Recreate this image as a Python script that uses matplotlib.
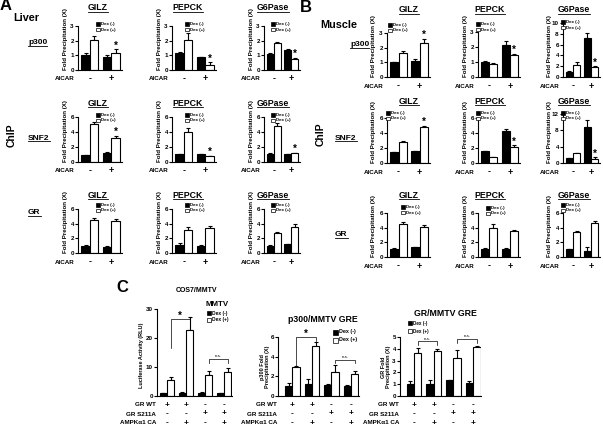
import numpy as np
import matplotlib.pyplot as plt
from matplotlib.patches import Rectangle
from matplotlib.lines import Line2D

plt.rcParams['font.family'] = ['Liberation Sans', 'DejaVu Sans']
plt.rcParams['font.weight'] = 'bold'
plt.rcParams['axes.linewidth'] = 0.8

W, H = 603, 426

# ---------------- data ----------------
# panels A / B: per gene [AICAR -, AICAR +]
genes = ['GILZ', 'PEPCK', 'G6Pase']
aicar = ['-', '+']

liver_p300_neg = [[1.02, 0.86], [1.13, 0.86], [1.08, 1.35]]
liver_p300_neg_err = [[0.12, 0.14], [0.08, 0.03], [0.10, 0.07]]
liver_p300_pos = [[2.03, 1.13], [2.05, 0.34], [1.85, 0.75]]
liver_p300_pos_err = [[0.27, 0.27], [0.47, 0.20], [0.05, 0.08]]

liver_snf2_neg = [[0.90, 1.17], [1.08, 1.03], [1.08, 1.03]]
liver_snf2_neg_err = [[0.10, 0.10], [0.05, 0.05], [0.10, 0.05]]
liver_snf2_pos = [[5.10, 3.20], [3.95, 0.75], [4.80, 1.20]]
liver_snf2_pos_err = [[0.20, 0.30], [0.60, 0.10], [0.40, 0.05]]

liver_gr_neg = [[1.00, 0.86], [1.05, 1.00], [1.00, 1.22]]
liver_gr_neg_err = [[0.05, 0.05], [0.25, 0.05], [0.05, 0.05]]
liver_gr_pos = [[4.45, 4.40], [3.20, 3.45], [2.72, 3.60]]
liver_gr_pos_err = [[0.35, 0.20], [0.35, 0.30], [0.15, 0.35]]

muscle_p300_neg = [[1.00, 1.08], [0.97, 2.12], [0.95, 7.20]]
muscle_p300_neg_err = [[0.02, 0.15], [0.12, 0.30], [0.20, 1.00]]
muscle_p300_pos = [[1.66, 2.35], [0.88, 1.45], [2.30, 1.85]]
muscle_p300_pos_err = [[0.08, 0.25], [0.07, 0.10], [0.40, 0.15]]

muscle_snf2_neg = [[1.42, 1.55], [1.55, 4.22], [1.15, 8.70]]
muscle_snf2_neg_err = [[0.10, 0.05], [0.08, 0.35], [0.10, 1.80]]
muscle_snf2_pos = [[2.80, 4.80], [0.75, 2.20], [2.50, 1.10]]
muscle_snf2_pos_err = [[0.08, 0.20], [0.05, 0.20], [0.05, 0.30]]

muscle_gr_neg = [[1.06, 1.38], [1.15, 1.15], [1.06, 0.83]]
muscle_gr_neg_err = [[0.10, 0.05], [0.10, 0.05], [0.05, 0.60]]
muscle_gr_pos = [[4.50, 4.05], [4.00, 3.55], [3.36, 4.70]]
muscle_gr_pos_err = [[0.30, 0.35], [0.45, 0.10], [0.25, 0.25]]

# panel C: four transfection conditions
gr_wt = ['+', '+', '-', '-']
gr_s211a = ['-', '-', '+', '+']
ampk_ca = ['-', '+', '-', '+']
row_names = ['GR WT', 'GR S211A', 'AMPK\u03b11 CA']

mmtv_neg = [0.9, 1.15, 1.15, 0.9]
mmtv_neg_err = [0.2, 0.2, 0.15, 0.2]
mmtv_pos = [5.5, 22.8, 7.3, 8.3]
mmtv_pos_err = [1.1, 4.4, 1.4, 1.3]
mmtv_brackets = [(0, 1, 26.5, 16.5, 24.0, '*'), (2, 3, 12.7, 11.3, 11.3, 'n.s.')]

p300gre_neg = [1.0, 1.18, 1.1, 1.0]
p300gre_neg_err = [0.3, 0.5, 0.12, 0.15]
p300gre_pos = [2.96, 5.05, 2.45, 2.2]
p300gre_pos_err = [0.05, 0.45, 0.75, 0.33]
p300gre_brackets = [(0, 1, 6.0, 3.05, 5.55, '*'), (2, 3, 3.7, 3.37, 3.37, 'n.s.')]

grgre_neg = [1.0, 0.98, 1.32, 1.07]
grgre_neg_err = [0.25, 0.37, 0.06, 0.17]
grgre_pos = [3.65, 3.8, 3.2, 4.15]
grgre_pos_err = [0.42, 0.22, 0.67, 0.1]
grgre_brackets = [(0, 1, 4.63, 4.33, 4.33, 'n.s.'), (2, 3, 4.83, 4.5, 4.5, 'n.s.')]

# ---------------- helpers ----------------
fig = plt.figure(figsize=(6.03, 4.26), dpi=100)
underlined = []
PT = 0.72  # points per pixel


def fx(x):
    return x / W


def fy(y):
    return 1 - y / H


def add_axes_px(left, top, right, bottom):
    ax = fig.add_axes([fx(left), fy(bottom), (right - left) / W, (bottom - top) / H])
    ax.patch.set_visible(False)
    return ax


def style_axes(ax, ymax, ystep, fs):
    ax.set_ylim(0, ymax)
    ticks = np.arange(0, ymax + 1e-6, ystep)
    ax.set_yticks(ticks)
    ax.set_yticklabels([f'{t:g}' for t in ticks], fontsize=fs, fontweight='bold')
    ax.spines[['top', 'right']].set_visible(False)
    ax.spines['left'].set_bounds(0, ymax)
    ax.set_xticks([])
    ax.tick_params(axis='y', direction='out', length=2, width=0.8, pad=1)


def pair_bars(ax, x, neg, neg_err, pos, pos_err, bw):
    neg, pos = np.asarray(neg), np.asarray(pos)
    ax.bar(x - bw / 2, neg, bw, color='black', edgecolor='black', linewidth=0.8, zorder=2)
    ax.bar(x + bw / 2, pos, bw, color='white', edgecolor='black', linewidth=0.8, zorder=2)
    for xs, v, e in ((x - bw / 2, neg, neg_err), (x + bw / 2, pos, pos_err)):
        ax.errorbar(xs, v, yerr=[np.zeros(len(v)), e], fmt='none', ecolor='black',
                    elinewidth=0.8, capsize=1.6, capthick=0.8, zorder=1, clip_on=False)


def legend_px(x, y, gap, sq, fs):
    for i, (fc, lab) in enumerate((('black', 'Dex (-)'), ('white', 'Dex (+)'))):
        yy = y + i * gap
        fig.add_artist(Rectangle((fx(x - sq / 2), fy(yy + sq / 2)), sq / W, sq / H,
                                 facecolor=fc, edgecolor='black', linewidth=0.5,
                                 transform=fig.transFigure))
        fig.text(fx(x + sq / 2 + 1.2), fy(yy), lab, fontsize=fs, ha='left', va='center')


def chip_chart(left, top, bottom, width, ymax, ystep, neg, neg_err, pos, pos_err,
               star, title, title_xy, leg_xy):
    ax = add_axes_px(left, top, left + width, bottom)
    x = np.array([0.55, 1.55])
    pair_bars(ax, x, neg, neg_err, pos, pos_err, 0.4)
    ax.set_xlim(0, 2.05)
    style_axes(ax, ymax, ystep, 4.5)
    ax.annotate('AICAR', xy=(0, 0), xycoords='axes fraction', xytext=(-3 * PT, -9 * PT),
                textcoords='offset points', ha='right', va='center', fontsize=4.5)
    for xi, s in zip(x, aicar):
        ax.annotate(s, xy=(xi, 0), xycoords=ax.get_xaxis_transform(), xytext=(0, -9 * PT),
                    textcoords='offset points', ha='center', va='center', fontsize=6.5)
    if star:
        ax.annotate('*', xy=(x[1] + 0.2, pos[1] + pos_err[1]), xytext=(0, -1),
                    textcoords='offset points', ha='center', va='bottom', fontsize=7)
    fig.text(fx(left - 13), fy(bottom), 'Fold Precipitation (X)', rotation=90,
             ha='center', va='bottom', fontsize=4.4)
    t = fig.text(fx(title_xy[0]), fy(title_xy[1]), title, ha='center', va='center', fontsize=6.3)
    underlined.append(t)
    legend_px(leg_xy[0], leg_xy[1], 5.5, 3.5, 3.2)
    return ax


def c_chart(left, top, bottom, xlim, unit, ymax, ystep, neg, neg_err, pos, pos_err,
            brackets, ylabel, ylabel_xy, ylabel_fs):
    right = left + (xlim[1] - xlim[0]) * unit
    ax = add_axes_px(left, top, right, bottom)
    x = np.arange(4)
    bw = 0.38
    pair_bars(ax, x, neg, neg_err, pos, pos_err, bw)
    ax.set_xlim(*xlim)
    style_axes(ax, ymax, ystep, 4.5)
    for r, (name, row) in enumerate(zip(row_names, [gr_wt, gr_s211a, ampk_ca])):
        dy = -(9 + 9 * r) * PT
        ax.annotate(name, xy=(0, 0), xycoords='axes fraction', xytext=(-1 * PT, dy),
                    textcoords='offset points', ha='right', va='center', fontsize=4.5)
        for xi, s in zip(x, row):
            ax.annotate(s, xy=(xi, 0), xycoords=ax.get_xaxis_transform(), xytext=(0, dy),
                        textcoords='offset points', ha='center', va='center', fontsize=6)
    for g1, g2, lvl, d1, d2, lab in brackets:
        x1, x2 = g1 + bw / 2, g2 + bw / 2
        ax.plot([x1, x1, x2, x2], [d1, lvl, lvl, d2], color='black', lw=0.5, clip_on=False)
        if lab == '*':
            ax.annotate(lab, xy=((x1 + x2) / 2, lvl), xytext=(0, -1.5), textcoords='offset points',
                        ha='center', va='bottom', fontsize=7)
        else:
            ax.annotate(lab, xy=((x1 + x2) / 2, lvl), xytext=(0, 0.5), textcoords='offset points',
                        ha='center', va='bottom', fontsize=3.2, fontweight='normal')
    fig.text(fx(ylabel_xy[0]), fy(ylabel_xy[1]), ylabel, rotation=90, ha='center', va='center',
             fontsize=ylabel_fs, multialignment='center', linespacing=1.0)
    return ax


# ---------------- panel A: liver ----------------
a_left = [78, 172, 264]
a_width = [44, 44, 36]
a_title_x = [98, 188, 273]
a_leg_x = [98, 187, 273]
liver_rows = [
    (26, 70, 3, 1, liver_p300_neg, liver_p300_neg_err, liver_p300_pos, liver_p300_pos_err, True, 8, 24),
    (117, 162, 6, 2, liver_snf2_neg, liver_snf2_neg_err, liver_snf2_pos, liver_snf2_pos_err, True, 103, 115),
    (209, 253, 6, 2, liver_gr_neg, liver_gr_neg_err, liver_gr_pos, liver_gr_pos_err, False, 195, 205),
]
for top, bottom, ymax, ystep, n, ne, p, pe, star, ty, ly in liver_rows:
    for i, g in enumerate(genes):
        chip_chart(a_left[i], top, bottom, a_width[i], ymax, ystep, n[i], ne[i], p[i], pe[i],
                   star, g, (a_title_x[i], ty), (a_leg_x[i], ly))

# ---------------- panel B: muscle ----------------
b_left = [387, 478, 563]
b_width = [43, 42, 37]
b_title_x = [409, 490, 574]
muscle_rows = [
    ([33, 32, 23], 77, [3, 3, 10], [1, 1, 2], muscle_p300_neg, muscle_p300_neg_err,
     muscle_p300_pos, muscle_p300_pos_err, True, 10, [(390, 25), (478, 24), (563, 22)]),
    ([118, 118, 114], 163, [6, 6, 12], [2, 2, 4], muscle_snf2_neg, muscle_snf2_neg_err,
     muscle_snf2_pos, muscle_snf2_pos_err, True, 101, [(388, 113), (478, 113), (563, 113)]),
    ([213, 213, 213], 257, [6, 6, 6], [2, 2, 2], muscle_gr_neg, muscle_gr_neg_err,
     muscle_gr_pos, muscle_gr_pos_err, False, 195, [(403, 207), (488, 208), (563, 205)]),
]
for tops, bottom, ymaxs, ysteps, n, ne, p, pe, star, ty, legs in muscle_rows:
    for i, g in enumerate(genes):
        chip_chart(b_left[i], tops[i], bottom, b_width[i], ymaxs[i], ysteps[i], n[i], ne[i],
                   p[i], pe[i], star, g, (b_title_x[i], ty), legs[i])

# ---------------- panel C ----------------
c_chart(157, 309, 396, (-0.52, 3.4), 19.1, 30, 10, mmtv_neg, mmtv_neg_err, mmtv_pos,
        mmtv_pos_err, mmtv_brackets, 'Luciferase Activity (RLU)', (141, 355), 4.0)
c_chart(278, 337, 396, (-0.74, 3.4), 19.5, 6, 2, p300gre_neg, p300gre_neg_err, p300gre_pos,
        p300gre_pos_err, p300gre_brackets, 'p300 Fold\nPrecipitation (X)', (265, 367), 4.0)
c_chart(400, 337, 396, (-0.71, 3.4), 19.7, 5, 1, grgre_neg, grgre_neg_err, grgre_pos,
        grgre_pos_err, grgre_brackets, 'GR Fold\nPrecipitation (X)', (386, 367), 4.0)

fig.text(fx(196), fy(291), 'COS7/MMTV', ha='center', va='center', fontsize=5)
fig.text(fx(206), fy(304), 'MMTV', ha='left', va='center', fontsize=5.7)
fig.text(fx(323), fy(319), 'p300/MMTV GRE', ha='center', va='center', fontsize=6.3)
fig.text(fx(445), fy(314), 'GR/MMTV GRE', ha='center', va='center', fontsize=6.3)
legend_px(209, 313, 7, 4, 3.5)
legend_px(335, 332, 8, 5, 3.9)
legend_px(410, 323, 8, 4.5, 3.3)

# ---------------- panel / row labels ----------------
fig.text(fx(0), fy(6), 'A', ha='left', va='center', fontsize=12)
fig.text(fx(300), fy(8), 'B', ha='left', va='center', fontsize=12)
fig.text(fx(116), fy(288), 'C', ha='left', va='center', fontsize=12)
fig.text(fx(13), fy(18), 'Liver', ha='left', va='center', fontsize=7.8)
fig.text(fx(320), fy(25), 'Muscle', ha='left', va='center', fontsize=7.8)
fig.text(fx(12), fy(135), 'ChIP', rotation=90, ha='center', va='center', fontsize=7.5)
fig.text(fx(321), fy(134), 'ChIP', rotation=90, ha='center', va='center', fontsize=7.5)
for x, y, s in [(28, 43, 'p300'), (28, 138, 'SNF2'), (28, 213, 'GR'),
                (350, 45, 'p300'), (335, 138, 'SNF2'), (335, 235, 'GR')]:
    underlined.append(fig.text(fx(x), fy(y), s, ha='left', va='center', fontsize=6))

# underline the gene titles and row labels
fig.canvas.draw()
renderer = fig.canvas.get_renderer()
for t in underlined:
    bb = t.get_window_extent(renderer)
    yline = (bb.y0 + 1.0) / fig.bbox.height
    fig.add_artist(Line2D([bb.x0 / fig.bbox.width, bb.x1 / fig.bbox.width], [yline, yline],
                          color='black', lw=0.6, transform=fig.transFigure))

fig.savefig('out.png', dpi=100)
